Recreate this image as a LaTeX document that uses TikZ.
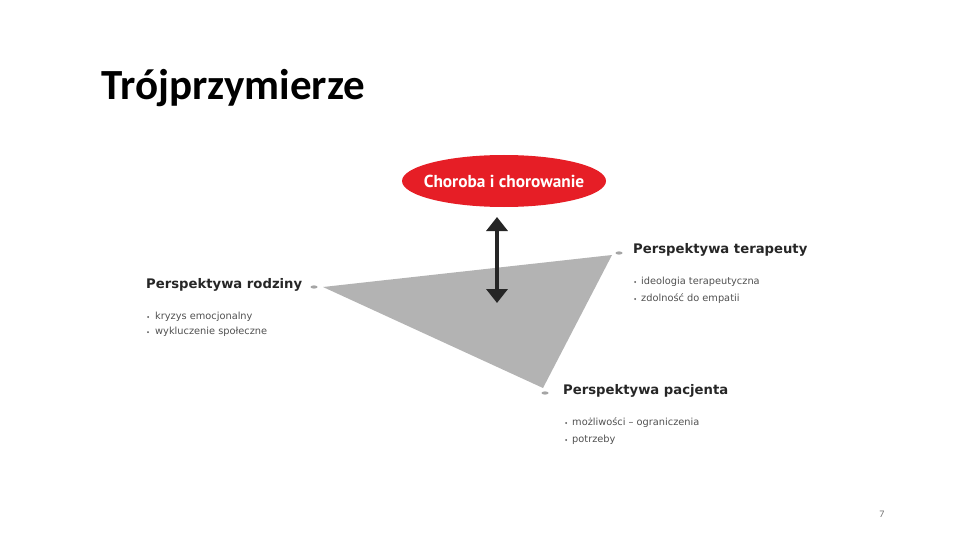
\documentclass[tikz,border=0pt]{standalone}
\usepackage{fontspec}
\setmainfont{Carlito}
\newfontfamily\diagfont{DejaVu Sans}
\newfontfamily\ellfont{PT Sans}
\usetikzlibrary{shapes.geometric,arrows.meta}
\definecolor{chorRed}{RGB}{230,30,38}
\definecolor{triGray}{RGB}{179,179,179}
\definecolor{dotGray}{RGB}{165,165,165}
\definecolor{txtGray}{RGB}{80,80,80}
\tikzset{
  headtxt/.style={anchor=west,inner sep=0pt,font=\diagfont\bfseries\fontsize{13.2}{15}\selectfont,text=black!85},
  itemtxt/.style={anchor=west,inner sep=0pt,font=\diagfont\fontsize{9.8}{11}\selectfont,text=txtGray},
  vdot/.style={fill=dotGray},
  dblarrow/.style={{Triangle[width=21pt,length=14pt]}-{Triangle[width=21pt,length=14pt]},line width=4.5pt,black!85}
}
\begin{document}
\begin{tikzpicture}[x=1pt,y=-1pt]
\useasboundingbox (0,0) rectangle (960,540);

% Title
\node[anchor=base west,inner sep=0pt,font=\bfseries\fontsize{43}{50}\selectfont] (title) at (101,100) {Trójprzymierze};

% Triangle
\coordinate (rodz) at (323,287);
\coordinate (ter) at (612,255);
\coordinate (pac) at (543,388);
\fill[triGray] (rodz) -- (ter) -- (pac) -- cycle;

% Vertex marks
\coordinate (rodzDot) at (314,287);
\coordinate (terDot) at (619,253);
\coordinate (pacDot) at (545,393);
\foreach \d in {rodzDot,terDot,pacDot}
  \fill[vdot] (\d) ellipse (3.5 and 1.6);

% Illness
\coordinate (choroba) at (504,181);
\fill[chorRed] (choroba) ellipse (102 and 26);
\node[text=white,inner sep=0pt,font=\ellfont\bfseries\fontsize{17.3}{19}\selectfont] (chorobaTxt) at (choroba) {Choroba i chorowanie};

% Double arrow
\coordinate (arrTop) at (497,217);
\coordinate (arrBot) at (497,303);
\draw[dblarrow] (arrTop) -- (arrBot);

% Perspektywa rodziny
\node[headtxt] (rodzHead) at (146,285) {Perspektywa rodziny};
\foreach \t/\y [count=\i] in {kryzys emocjonalny/317, wykluczenie społeczne/332} {
  \fill[txtGray] (148,\y) circle (1);
  \node[itemtxt] (rodzItem\i) at (155,\y) {\t};
}

% Perspektywa terapeuty
\node[headtxt] (terHead) at (633,250) {Perspektywa terapeuty};
\foreach \t/\y [count=\i] in {ideologia terapeutyczna/282, zdolność do empatii/299} {
  \fill[txtGray] (635,\y) circle (1);
  \node[itemtxt] (terItem\i) at (641,\y) {\t};
}

% Perspektywa pacjenta
\node[headtxt] (pacHead) at (563,391) {Perspektywa pacjenta};
\foreach \t/\y [count=\i] in {możliwości – ograniczenia/423, potrzeby/440} {
  \fill[txtGray] (566,\y) circle (1);
  \node[itemtxt] (pacItem\i) at (572,\y) {\t};
}

% Page number
\node[font=\fontsize{10}{12}\selectfont,text=black!55] (pageNo) at (882,514) {7};
\end{tikzpicture}
\end{document}
